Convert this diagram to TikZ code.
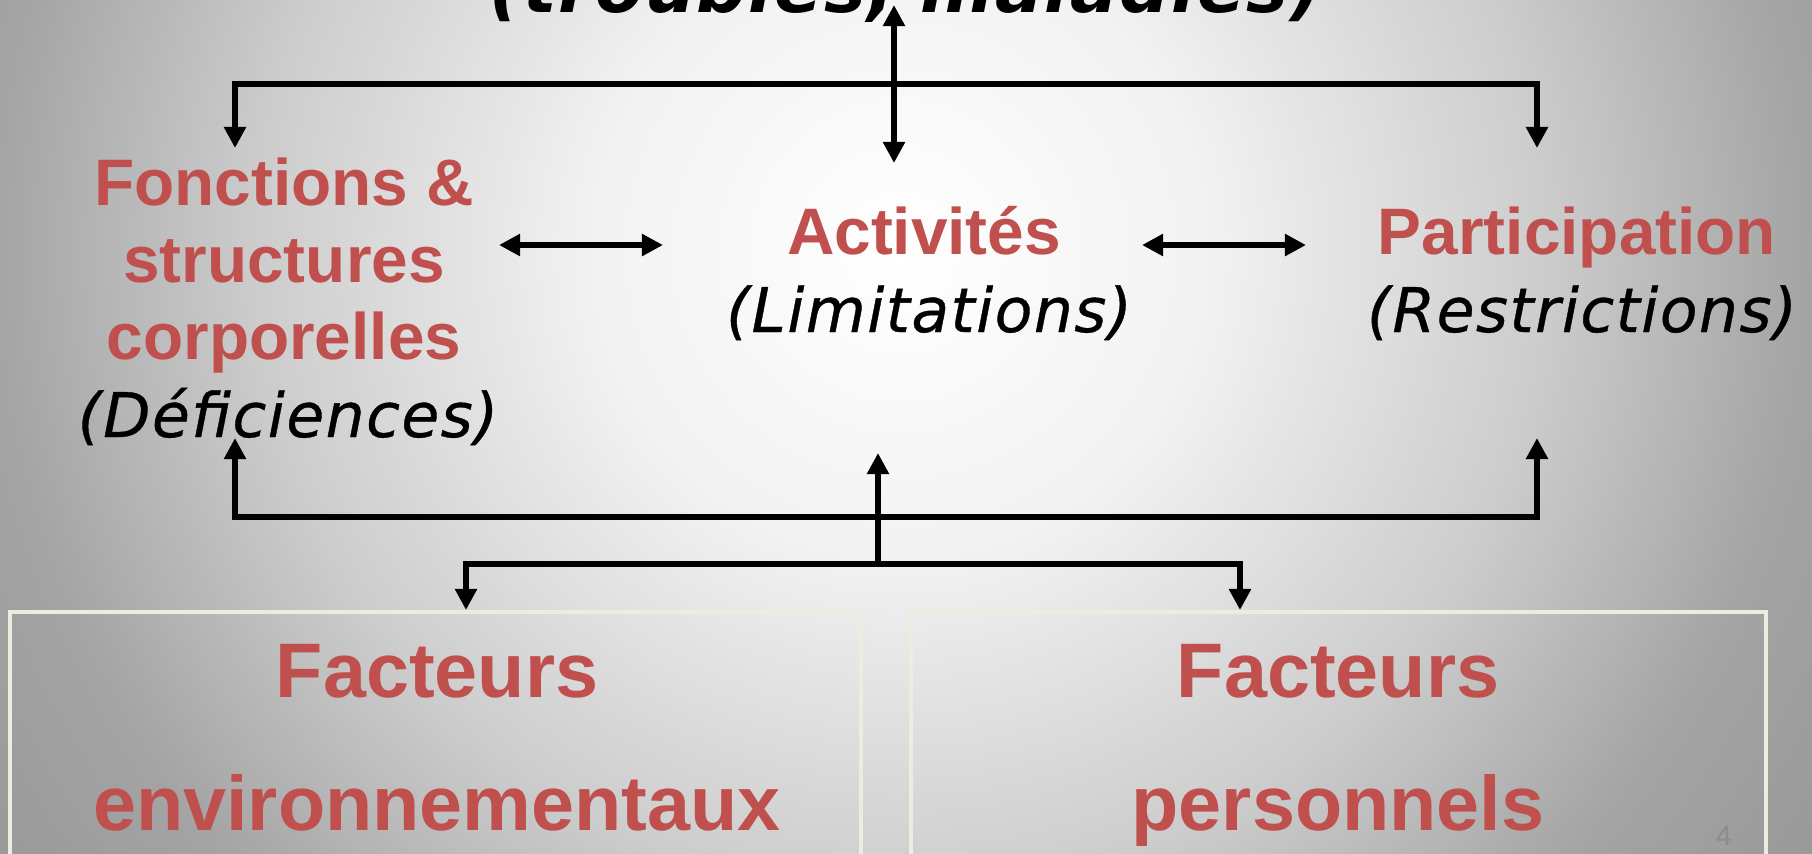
\documentclass[tikz,border=0pt]{standalone}
\usepackage{fontspec}
\setmainfont{Liberation Sans}
\newfontfamily\italfont[LetterSpace=2.4, ItalicFeatures={FakeBold=0.6}]{DejaVu Sans}
\usetikzlibrary{arrows.meta}
\definecolor{rouge}{HTML}{C0504D}
\definecolor{cadre}{HTML}{EEECE1}
\definecolor{numero}{HTML}{8C8C8C}
\definecolor{g94}{gray}{0.95}
\definecolor{g80}{gray}{0.80}
\definecolor{g63}{gray}{0.64}
\definecolor{g59}{gray}{0.60}
\pgfdeclareradialshading{fond}{\pgfpoint{0bp}{0bp}}{color(0bp)=(white); color(8bp)=(g94); color(17bp)=(g80); color(24bp)=(g63); color(29bp)=(g59); color(50bp)=(g59)}
\tikzset{
  fleche/.style={line width=1.6pt, -{Triangle[length=6pt,width=6pt]}},
  dfleche/.style={line width=1.6pt, {Triangle[length=6pt,width=6pt]}-{Triangle[length=6pt,width=6pt]}},
  titre/.style={font=\fontsize{18.7}{21.8}\selectfont\bfseries, text=rouge, inner sep=0pt, align=center, anchor=base},
  sous/.style={font=\italfont\itshape\fontsize{17.5}{21}\selectfont, inner sep=0pt, anchor=base},
  facteur/.style={font=\fontsize{22}{37.8}\selectfont\bfseries, text=rouge, inner sep=0pt, align=center, anchor=base},
  boite/.style={draw=cadre, line width=1pt},
}
\begin{document}
\begin{tikzpicture}
\useasboundingbox (0,0) rectangle (18.12,-8.53);
\clip (0,0) rectangle (18.12,-8.53);

% background
\fill[g59] (0,0) rectangle (18.12,-8.53);
\pgfmathsetmacro{\xc}{9.0}
\pgfmathsetmacro{\yc}{-2.5}
\shade[shading=fond] (\xc-9.5,\yc-9.5) rectangle (\xc+9.5,\yc+9.5);

% factor boxes
\draw[boite] (0.10,-6.12) rectangle (8.61,-9.00);
\draw[boite] (9.11,-6.12) rectangle (17.66,-9.00);

% texts (base = last line)
\node[font=\italfont\bfseries\itshape\fontsize{20}{24}\selectfont, inner sep=0pt, anchor=base] (maladie) at (9.06,-0.12) {(troubles, maladies)};
\node[titre] (fonc) at (2.84,-3.59) {Fonctions \&\\structures\\corporelles};
\node[sous] (defic) at (2.88,-4.37) {(Déficiences)};
\node[titre] (activ) at (9.24,-2.54) {Activités};
\node[sous] (limit) at (9.29,-3.32) {(Limitations)};
\node[titre] (partic) at (15.77,-2.54) {Participation};
\node[sous] (restr) at (15.82,-3.32) {(Restrictions)};
\node[facteur] (env) at (4.37,-8.30) {Facteurs\\environnementaux};
\node[facteur] (pers) at (13.38,-8.30) {Facteurs\\personnels};
\node[font=\fontsize{8}{9}\selectfont, text=numero, inner sep=0pt, anchor=base] (page) at (17.24,-8.45) {4};

% top bus
\coordinate (cHaut) at (8.94,-0.05);
\coordinate (cBas) at (8.94,-1.63);
\coordinate (hautG) at (2.35,-0.84);
\coordinate (hautD) at (15.37,-0.84);
\coordinate (fG) at (2.35,-1.48);
\coordinate (fD) at (15.37,-1.48);
\draw[dfleche] (cHaut) -- (cBas);
\draw[dfleche] (fG) -- (hautG) -- (hautD) -- (fD);

% side arrows
\coordinate (g1) at (4.99,-2.45);
\coordinate (g2) at (6.63,-2.45);
\coordinate (d1) at (11.42,-2.45);
\coordinate (d2) at (13.06,-2.45);
\draw[dfleche] (g1) -- (g2);
\draw[dfleche] (d1) -- (d2);

% bottom bus
\coordinate (basG) at (2.35,-5.17);
\coordinate (basD) at (15.37,-5.17);
\coordinate (mG) at (2.35,-4.38);
\coordinate (mD) at (15.37,-4.38);
\coordinate (mil) at (8.78,-5.64);
\coordinate (milH) at (8.78,-4.53);
\coordinate (envG) at (4.66,-5.64);
\coordinate (persD) at (12.40,-5.64);
\coordinate (envB) at (4.66,-6.10);
\coordinate (persB) at (12.40,-6.10);
\draw[dfleche] (mG) -- (basG) -- (basD) -- (mD);
\draw[fleche] (mil) -- (milH);
\draw[dfleche] (envB) -- (envG) -- (persD) -- (persB);

\end{tikzpicture}
\end{document}
